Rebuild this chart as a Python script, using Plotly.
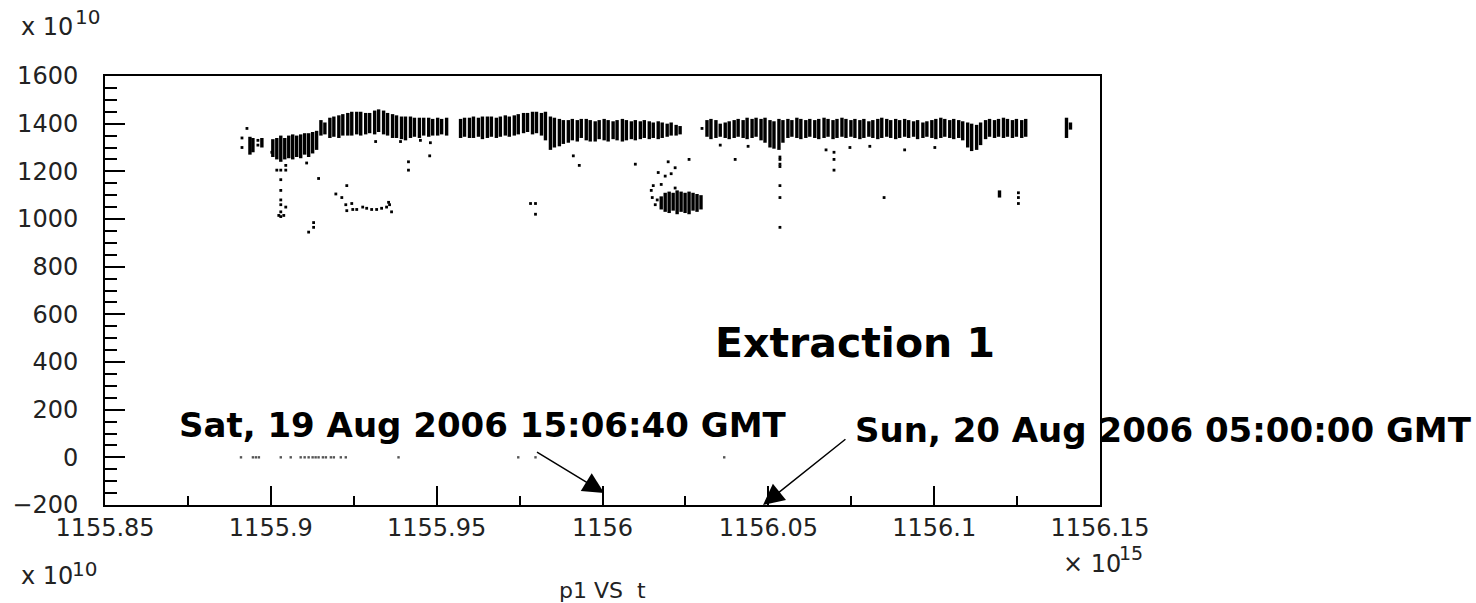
import plotly.graph_objects as go

# ---------------- data (t in units of 1e15 ns, p1 in units of 1e10) ----------------
# vertical stripes of dense points: time, lowest value, highest value
stripe_t = [
    1155.8937, 1155.8946, 1155.8973,
    1155.9006, 1155.9018, 1155.9030, 1155.9042, 1155.9054, 1155.9066, 1155.9078, 1155.9090,
    1155.9102, 1155.9114, 1155.9126, 1155.9138,
    1155.9151, 1155.9163, 1155.9178, 1155.9190, 1155.9205, 1155.9217, 1155.9232, 1155.9244,
    1155.9259, 1155.9271, 1155.9286, 1155.9298, 1155.9313, 1155.9325, 1155.9340, 1155.9352,
    1155.9367, 1155.9379, 1155.9394, 1155.9406, 1155.9421, 1155.9433, 1155.9448, 1155.9461,
    1155.9476, 1155.9488, 1155.9503, 1155.9515, 1155.9530,
    1155.9572, 1155.9584, 1155.9599, 1155.9611, 1155.9626, 1155.9638, 1155.9653, 1155.9665,
    1155.9680, 1155.9692, 1155.9707, 1155.9719, 1155.9734, 1155.9746, 1155.9762, 1155.9774,
    1155.9789, 1155.9801, 1155.9816, 1155.9828, 1155.9843, 1155.9855, 1155.9870, 1155.9882,
    1155.9897, 1155.9909, 1155.9924, 1155.9936, 1155.9951, 1155.9963, 1155.9978, 1155.9990,
    1156.0005, 1156.0017, 1156.0032, 1156.0044, 1156.0060, 1156.0072, 1156.0087, 1156.0099,
    1156.0114, 1156.0126, 1156.0141, 1156.0153, 1156.0168, 1156.0180, 1156.0195, 1156.0207,
    1156.0222, 1156.0234,
    1156.0315, 1156.0327, 1156.0342, 1156.0355, 1156.0370, 1156.0382, 1156.0397, 1156.0409,
    1156.0424, 1156.0436, 1156.0451, 1156.0463, 1156.0478, 1156.0490, 1156.0505, 1156.0517,
    1156.0532, 1156.0544, 1156.0559, 1156.0571, 1156.0586, 1156.0598, 1156.0613, 1156.0625,
    1156.0640, 1156.0652, 1156.0668, 1156.0680, 1156.0695, 1156.0707, 1156.0722, 1156.0734,
    1156.0749, 1156.0761, 1156.0776, 1156.0788, 1156.0803, 1156.0815, 1156.0830, 1156.0842,
    1156.0857, 1156.0869, 1156.0884, 1156.0896, 1156.0911, 1156.0923, 1156.0938, 1156.0950,
    1156.0966, 1156.0978, 1156.0993, 1156.1005, 1156.1020, 1156.1032, 1156.1047, 1156.1059,
    1156.1074, 1156.1086, 1156.1101, 1156.1113, 1156.1128, 1156.1140, 1156.1155, 1156.1167,
    1156.1182, 1156.1194, 1156.1209, 1156.1221, 1156.1236, 1156.1248, 1156.1264, 1156.1276,
    1156.1399, 1156.1411,
    # secondary group near 1050
    1156.0177, 1156.0189, 1156.0201, 1156.0213, 1156.0225, 1156.0237, 1156.0249, 1156.0261,
    1156.0273, 1156.0285, 1156.0297,
    1156.1197,
]
stripe_lo = [
    1270, 1280, 1300,
    1260, 1250, 1240, 1250, 1255, 1250, 1260, 1255, 1270, 1260, 1275, 1290,
    1350, 1355, 1340, 1345, 1340, 1350, 1350, 1350, 1355, 1350, 1355, 1360, 1355, 1365, 1355, 1350,
    1340, 1340, 1335, 1330, 1340, 1345, 1340, 1350, 1345, 1350, 1350, 1355, 1350,
    1340, 1345, 1340, 1340, 1345, 1335, 1340, 1345, 1340, 1345, 1350, 1345, 1350, 1355, 1360, 1365,
    1355, 1360, 1350, 1330, 1290, 1300, 1305, 1315, 1320, 1330, 1325, 1340, 1330, 1325, 1325, 1335,
    1330, 1325, 1335, 1330, 1325, 1330, 1335, 1330, 1335, 1340, 1335, 1340, 1335, 1340, 1345, 1350,
    1350, 1355,
    1345, 1335, 1340, 1345, 1340, 1335, 1340, 1345, 1340, 1335, 1340, 1345, 1330, 1320, 1300, 1295,
    1290, 1320, 1340, 1345, 1340, 1335, 1340, 1345, 1340, 1335, 1340, 1345, 1335, 1340, 1345, 1340,
    1345, 1340, 1335, 1340, 1345, 1340, 1335, 1340, 1345, 1340, 1335, 1340, 1345, 1340, 1345, 1335,
    1340, 1345, 1340, 1335, 1340, 1345, 1340, 1335, 1340, 1330, 1300, 1285, 1290, 1310, 1335, 1345,
    1340, 1345, 1340, 1345, 1340, 1345, 1340, 1345,
    1340, 1375,
    1040, 1030, 1025, 1035, 1020, 1030, 1025, 1020, 1035, 1030, 1040,
    1090,
]
stripe_hi = [
    1345, 1340, 1340,
    1335, 1340, 1350, 1340, 1350, 1355, 1350, 1355, 1360, 1360, 1365, 1370,
    1415, 1405, 1425, 1430, 1435, 1440, 1445, 1450, 1450, 1450, 1445, 1445, 1455, 1460, 1455, 1445,
    1440, 1435, 1430, 1430, 1430, 1425, 1425, 1425, 1425, 1420, 1425, 1420, 1425,
    1420, 1425, 1425, 1430, 1425, 1430, 1430, 1430, 1425, 1430, 1435, 1430, 1435, 1440, 1445, 1445,
    1450, 1450, 1445, 1450, 1430, 1425, 1420, 1415, 1415, 1420, 1415, 1420, 1420, 1415, 1410, 1415,
    1420, 1415, 1410, 1415, 1420, 1415, 1410, 1415, 1410, 1415, 1410, 1405, 1410, 1405, 1400, 1405,
    1395, 1390,
    1415, 1420, 1415, 1400, 1405, 1410, 1415, 1420, 1415, 1425, 1420, 1425, 1420, 1425, 1415, 1410,
    1420, 1415, 1420, 1415, 1425, 1420, 1415, 1420, 1415, 1420, 1425, 1420, 1415, 1420, 1425, 1420,
    1415, 1420, 1415, 1420, 1410, 1415, 1420, 1425, 1420, 1415, 1420, 1415, 1420, 1415, 1410, 1415,
    1405, 1410, 1415, 1420, 1425, 1420, 1415, 1420, 1415, 1410, 1405, 1400, 1395, 1405, 1415, 1420,
    1415, 1420, 1425, 1420, 1415, 1420, 1415, 1420,
    1425, 1405,
    1095, 1110, 1115, 1110, 1120, 1115, 1110, 1115, 1110, 1105, 1100,
    1120,
]

# isolated points
dot_t = [
    1155.8913, 1155.8913, 1155.8928, 1155.8961, 1155.8961, 1155.9003,
    1155.9030, 1155.9030, 1155.9030, 1155.9030, 1155.9030, 1155.9030, 1155.9030,
    1155.9018, 1155.9045, 1155.9045, 1155.9045, 1155.9024, 1155.9039, 1155.9108,
    1155.9144, 1155.9229, 1155.9196, 1155.9214,
    1155.9226, 1155.9229, 1155.9244, 1155.9247, 1155.9259, 1155.9277, 1155.9289, 1155.9304,
    1155.9319, 1155.9334, 1155.9349, 1155.9355, 1155.9364, 1155.9358,
    1155.9114, 1155.9129, 1155.9129,
    1155.9415, 1155.9415, 1155.9479,
    1155.9783, 1155.9798, 1155.9798,
    1155.9930, 1155.9912, 1156.0099, 1156.0261, 1156.0400,
    1156.0198, 1156.0219, 1156.0168, 1156.0189, 1156.0207, 1156.0153, 1156.0177, 1156.0219,
    1156.0147, 1156.0150, 1156.0165, 1156.0159,
    1156.0535, 1156.0535, 1156.0535, 1156.0535, 1156.0535, 1156.0535, 1156.0535,
    1156.0698, 1156.0698, 1156.0698, 1156.0849,
    1156.1254, 1156.1254, 1156.1254,
    1156.0674, 1156.0746, 1156.0806, 1156.0439, 1156.0355, 1156.0911, 1156.1002,
    1155.9316, 1155.9391, 1155.9451, 1155.9481, 1156.0300,
]
dot_p = [
    1340, 1300, 1380, 1330, 1310, 1280,
    1205, 1165, 1120, 1080, 1060, 1030, 1010,
    1205, 1225, 1205, 1050, 1015, 1015, 1235,
    1170, 1140, 1105, 1090,
    1060, 1035, 1065, 1040, 1040, 1050, 1045, 1040,
    1040, 1045, 1050, 1070, 1030, 1060,
    945, 985, 965,
    1240, 1205, 1265,
    1065, 1065, 1020,
    1225, 1265, 1230, 1250, 1250,
    1240, 1215, 1195, 1180, 1190, 1140, 1145, 1130,
    1120, 1090, 1080, 1060,
    1260, 1250, 1230, 1220, 1140, 1090, 965,
    1280, 1250, 1205, 1090,
    1110, 1090, 1065,
    1290, 1300, 1305, 1305, 1310, 1290, 1300,
    1325, 1325, 1330, 1320, 1380,
]

# points recorded near zero
zero_t = [1155.8910, 1155.8946, 1155.8955, 1155.8964, 1155.9030, 1155.9060, 1155.9090,
          1155.9102, 1155.9114, 1155.9126, 1155.9135, 1155.9144, 1155.9157, 1155.9166,
          1155.9181, 1155.9190, 1155.9211, 1155.9226, 1155.9385, 1155.9746, 1155.9798,
          1156.0367]
zero_p = [0, 0, 0, 0, 0, 0, 0, 0, 0, 0, 0, 0, 0, 0, 0, 0, 0, 0, 0, 0, 0, 0]

x_tickvals = [1155.85, 1155.9, 1155.95, 1156.0, 1156.05, 1156.1, 1156.15]
x_ticktext = ["1155.85", "1155.9", "1155.95", "1156", "1156.05", "1156.1", "1156.15"]
x_minor = [1155.875, 1155.925, 1155.975, 1156.025, 1156.075, 1156.125]
y_tickvals = [-200, 0, 200, 400, 600, 800, 1000, 1200, 1400, 1600]
y_ticktext = ["\u2212200", "0", "200", "400", "600", "800", "1000", "1200", "1400", "1600"]
y_minor = [v for v in range(-150, 1600, 50) if v % 200 != 0]

# ---------------- figure ----------------
W, H = 1476, 603
L, R, T, B = 103, 1100, 76, 505


def px(xp):
    return (xp - L) / (R - L)


def py(yp):
    return (B - yp) / (B - T)


sx, sy = [], []
for t, lo, hi in zip(stripe_t, stripe_lo, stripe_hi):
    sx += [t, t, None]
    sy += [lo, hi, None]

fig = go.Figure()
fig.add_trace(go.Scatter(x=sx, y=sy, mode="lines",
                         line=dict(color="black", width=3.4), hoverinfo="skip"))
fig.add_trace(go.Scatter(x=dot_t, y=dot_p, mode="markers",
                         marker=dict(symbol="square", size=2.8, color="black",
                                     line=dict(width=0))))
fig.add_trace(go.Scatter(x=zero_t, y=zero_p, mode="markers",
                         marker=dict(symbol="square", size=2.4, color="#555",
                                     line=dict(width=0))))

axis_font = dict(family="DejaVu Sans", size=24, color="#222")
bold_font = dict(family="DejaVu Sans", size=34, color="black")

fig.update_layout(
    width=W, height=H, autosize=False,
    margin=dict(l=L, r=W - R, t=T, b=H - B, pad=0),
    paper_bgcolor="white", plot_bgcolor="white",
    showlegend=False,
    xaxis=dict(range=[1155.85, 1156.15], tickmode="array", tickvals=x_tickvals,
               ticktext=x_ticktext, ticks="inside", ticklen=19, tickwidth=2,
               tickcolor="black", showline=True, linecolor="black", linewidth=2,
               mirror=True, showgrid=False, zeroline=False, tickfont=axis_font,
               ticklabelstandoff=0,
               minor=dict(tickmode="array", tickvals=x_minor, ticks="inside",
                          ticklen=9, tickwidth=2, tickcolor="black", showgrid=False)),
    yaxis=dict(range=[-200, 1600], tickmode="array", tickvals=y_tickvals,
               ticktext=y_ticktext, ticks="inside", ticklen=20, tickwidth=2,
               tickcolor="black", showline=True, linecolor="black", linewidth=2,
               mirror=True, showgrid=False, zeroline=False, tickfont=axis_font,
               ticklabelstandoff=20,
               minor=dict(tickmode="array", tickvals=y_minor, ticks="inside",
                          ticklen=12, tickwidth=2, tickcolor="black", showgrid=False)),
)

ann = []
# exponent labels
ann.append(dict(text="x 10", x=px(17), y=py(27), xref="paper", yref="paper",
                xanchor="left", yanchor="middle", showarrow=False, font=axis_font))
ann.append(dict(text="10", x=px(71), y=py(17), xref="paper", yref="paper",
                xanchor="left", yanchor="middle", showarrow=False,
                font=dict(family="DejaVu Sans", size=20, color="#222")))
ann.append(dict(text="x 10", x=px(17), y=py(576), xref="paper", yref="paper",
                xanchor="left", yanchor="middle", showarrow=False, font=axis_font))
ann.append(dict(text="10", x=px(68), y=py(569), xref="paper", yref="paper",
                xanchor="left", yanchor="middle", showarrow=False,
                font=dict(family="DejaVu Sans", size=20, color="#222")))
ann.append(dict(text="\u00d7 10", x=px(1061), y=py(564), xref="paper", yref="paper",
                xanchor="left", yanchor="middle", showarrow=False, font=axis_font))
ann.append(dict(text="15", x=px(1117), y=py(553), xref="paper", yref="paper",
                xanchor="left", yanchor="middle", showarrow=False,
                font=dict(family="DejaVu Sans", size=19, color="#222")))
ann.append(dict(text="p1 VS\u00a0\u00a0t", x=px(602), y=py(590), xref="paper", yref="paper",
                xanchor="center", yanchor="middle", showarrow=False,
                font=dict(family="DejaVu Sans", size=22, color="#222")))
# bold labels
ann.append(dict(text="<b>Extraction 1</b>", x=px(712), y=py(343), xref="paper", yref="paper",
                xanchor="left", yanchor="middle", showarrow=False,
                font=dict(family="DejaVu Sans", size=41, color="black")))
ann.append(dict(text="<b>Sat, 19 Aug 2006 15:06:40 GMT</b>", x=px(175), y=py(425),
                xref="paper", yref="paper", xanchor="left", yanchor="middle",
                showarrow=False, font=bold_font))
ann.append(dict(text="<b>Sun, 20 Aug 2006 05:00:00 GMT</b>", x=px(853), y=py(430),
                xref="paper", yref="paper", xanchor="left", yanchor="middle",
                showarrow=False, font=bold_font))
# arrows
ann.append(dict(text="", x=1156.0005, y=-150, ax=1155.9798, ay=26,
                xref="x", yref="y", axref="x", ayref="y", showarrow=True,
                arrowhead=2, arrowsize=2.8, arrowwidth=1.5, arrowcolor="black"))
ann.append(dict(text="", x=1156.0484, y=-200, ax=1156.0737, ay=81,
                xref="x", yref="y", axref="x", ayref="y", showarrow=True,
                arrowhead=2, arrowsize=2.8, arrowwidth=1.5, arrowcolor="black"))
fig.update_layout(annotations=ann)

fig.write_html("out.html")
